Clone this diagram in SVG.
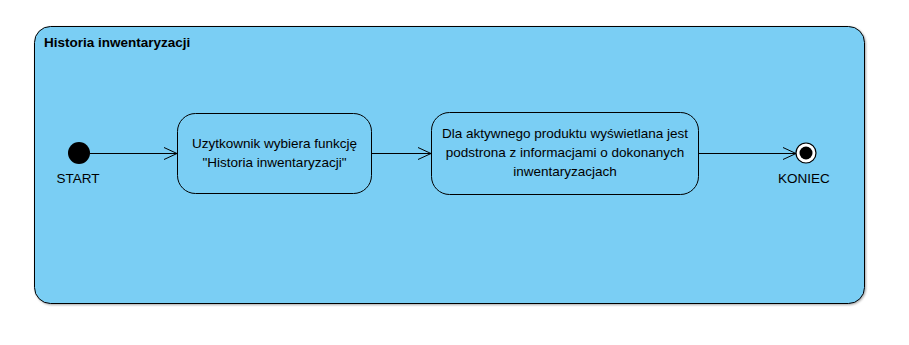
<svg xmlns="http://www.w3.org/2000/svg" width="909" height="345" viewBox="0 0 909 345">
  <defs>
    <marker id="open" markerWidth="16" markerHeight="14" refX="14" refY="7" orient="auto" markerUnits="userSpaceOnUse">
      <path d="M1,1 L14,7 L1,13" fill="none" stroke="#000" stroke-width="1"/>
    </marker>
    <filter id="shadow" x="-5%" y="-5%" width="110%" height="115%">
      <feDropShadow dx="1" dy="1" stdDeviation="1" flood-color="#000" flood-opacity="0.35"/>
    </filter>
  </defs>
  <style>
    .frame { fill: #7acef4; stroke: #000; stroke-width: 1; }
    .action { fill: #7acef4; stroke: #000; stroke-width: 1; }
    .label { font-family: "Liberation Sans", Arial, sans-serif; font-size: 13.5px; fill: #000; }
    .title { font-family: "Liberation Sans", Arial, sans-serif; font-size: 13.5px; font-weight: bold; fill: #000; }
    .edge { stroke: #000; stroke-width: 1; fill: none; marker-end: url(#open); }
  </style>
  <rect width="909" height="345" fill="#fff"/>

  <g id="activity">
    <rect class="frame" x="34.5" y="26.5" width="830" height="277" rx="16" filter="url(#shadow)"/>
    <text class="title" x="44" y="47">Historia inwentaryzacji</text>
  </g>

  <g id="start">
    <circle cx="79" cy="153" r="11" fill="#000"/>
    <text class="label" x="78" y="183" text-anchor="middle">START</text>
  </g>

  <g id="action1">
    <rect class="action" x="177.5" y="113.5" width="194" height="80" rx="18"/>
    <text class="label" x="274.5" y="148" text-anchor="middle">Uzytkownik wybiera funkcję</text>
    <text class="label" x="274.5" y="167" text-anchor="middle">"Historia inwentaryzacji"</text>
  </g>

  <g id="action2">
    <rect class="action" x="431.5" y="112.5" width="267" height="82" rx="18"/>
    <text class="label" x="565" y="138" text-anchor="middle">Dla aktywnego produktu wyświetlana jest</text>
    <text class="label" x="565" y="157" text-anchor="middle">podstrona z informacjami o dokonanych</text>
    <text class="label" x="565" y="176" text-anchor="middle">inwentaryzacjach</text>
  </g>

  <g id="end">
    <circle cx="806" cy="153" r="10" fill="#fff" stroke="#000" stroke-width="1.2"/>
    <circle cx="806" cy="153" r="6.5" fill="#000"/>
    <text class="label" x="804" y="183" text-anchor="middle">KONIEC</text>
  </g>

  <g id="connectors">
    <line class="edge" x1="90" y1="153.5" x2="177" y2="153.5"/>
    <line class="edge" x1="372" y1="153.5" x2="431" y2="153.5"/>
    <line class="edge" x1="699" y1="153.5" x2="796" y2="153.5"/>
  </g>
</svg>
